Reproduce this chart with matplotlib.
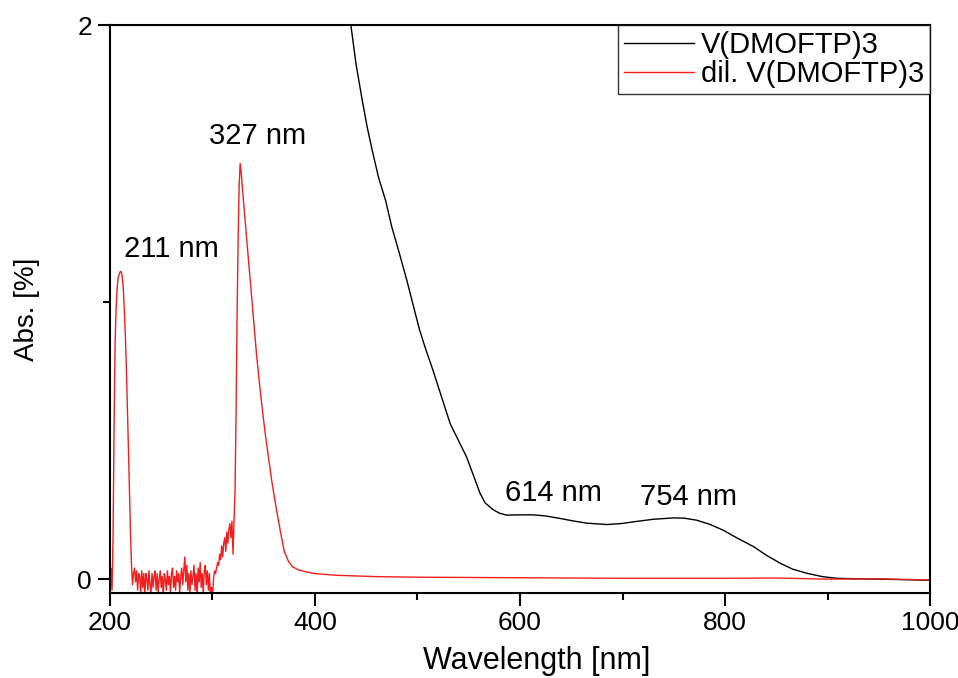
import matplotlib.pyplot as plt
from matplotlib.ticker import MultipleLocator

plt.rcParams['font.family'] = ['Liberation Sans', 'DejaVu Sans']

# V(DMOFTP)3 (concentrated)
black_wl = [420, 435, 440, 446, 451, 456, 462, 469, 475, 482, 489.5, 495, 502, 508,
            515, 525, 532, 540, 548, 555, 561, 566, 574, 580, 587, 600, 613, 625,
            639, 652, 665, 685, 700, 711, 730, 750, 760, 772, 785, 798, 812, 828,
            840, 854, 866, 880, 895, 909, 930, 951, 975, 1000]
black_abs = [2.35, 2.00, 1.86, 1.73, 1.63, 1.545, 1.45, 1.365, 1.27, 1.18, 1.08, 1.00,
             0.90, 0.83, 0.755, 0.64, 0.56, 0.50, 0.44, 0.37, 0.31, 0.275, 0.25,
             0.238, 0.231, 0.232, 0.232, 0.228, 0.219, 0.21, 0.202, 0.197, 0.201,
             0.207, 0.216, 0.221, 0.22, 0.213, 0.198, 0.177, 0.148, 0.117, 0.087,
             0.057, 0.036, 0.021, 0.009, 0.003, 0.001, 0.0, -0.002, -0.004]

# dil. V(DMOFTP)3
red_wl = list(range(200, 330)) + [331, 334, 337, 340, 343, 346, 349, 352, 355, 358,
                                  362, 366, 370, 374, 378, 384, 392, 400, 420, 460,
                                  500, 600, 700, 800, 850, 900, 950, 1000]
red_abs = [
    # 200-221: peak at 211 nm
    -0.06, 0.04, -0.04, 0.15, 0.55, 0.85, 0.98, 1.05, 1.09, 1.10, 1.11, 1.11,
    1.09, 1.05, 0.97, 0.88, 0.76, 0.62, 0.47, 0.32, 0.17, 0.05,
    # 222-300: noisy baseline
    -0.02, 0.02, 0.04, -0.01, 0.03, -0.04, 0.02, 0.01, -0.05, 0.03,
    -0.03, 0.02, -0.06, 0.02, 0.00, -0.04, 0.03, -0.02, -0.05, 0.02,
    -0.03, 0.01, 0.03, -0.04, 0.02, -0.05, 0.00, 0.03, -0.03, 0.01,
    -0.06, 0.02, 0.00, -0.04, 0.03, -0.02, 0.01, -0.05, 0.02, 0.04,
    -0.03, 0.01, -0.04, 0.03, -0.01, 0.02, -0.05, 0.01, 0.04, -0.02,
    0.03, 0.08, -0.01, 0.05, -0.04, 0.02, -0.05, 0.03, -0.02, 0.01,
    0.05, -0.04, 0.02, -0.06, 0.04, -0.01, 0.06, -0.03, 0.02, -0.05,
    0.03, 0.05, -0.02, 0.03, -0.04, 0.02, -0.06, -0.03, -0.06,
    # 301-329: rise to peak at 327 nm
    0.00, 0.03, 0.02, 0.04, 0.06, 0.05, 0.09, 0.07, 0.12, 0.08,
    0.13, 0.15, 0.10, 0.17, 0.13, 0.18, 0.20, 0.15, 0.21, 0.09,
    0.20, 0.32, 0.60, 0.95, 1.22, 1.42, 1.50, 1.47, 1.42,
    # tail
    1.33, 1.20, 1.07, 0.94, 0.81, 0.70, 0.60, 0.51, 0.43, 0.35,
    0.26, 0.177, 0.10, 0.065, 0.045, 0.033, 0.026, 0.02, 0.014, 0.009,
    0.007, 0.005, 0.003, 0.003, 0.004, 0.0, 0.001, -0.003]

peak_labels = ['211 nm', '327 nm', '614 nm', '754 nm']
label_x = [213.7, 296.6, 585.4, 717]
label_y = [1.19, 1.60, 0.31, 0.296]

fig = plt.figure(figsize=(9.58, 6.78), dpi=100)
ax = fig.add_axes([0.1148, 0.1254, 0.856, 0.8377])

ax.plot(black_wl, black_abs, color='black', lw=1.0, label='V(DMOFTP)3')
ax.plot(red_wl, red_abs, color='#f01e1e', lw=1.0, label='dil. V(DMOFTP)3')

for txt, x, y in zip(peak_labels, label_x, label_y):
    ax.text(x, y, txt, fontsize=21, ha='left', va='center')

ax.set_xlim(200, 1000)
ax.set_ylim(-0.05, 2)
ax.xaxis.set_major_locator(MultipleLocator(200))
ax.xaxis.set_minor_locator(MultipleLocator(100))
ax.set_yticks([0, 2])
ax.yaxis.set_minor_locator(MultipleLocator(1))
ax.tick_params(which='major', direction='out', length=9, width=1.5, labelsize=19, pad=4)
ax.tick_params(which='minor', direction='out', length=5, width=1.5)
for s in ax.spines.values():
    s.set_linewidth(1.5)

ax.set_xlabel('Wavelength [nm]', fontsize=22)
ax.xaxis.set_label_coords(0.52, -0.094)
ax.set_ylabel('Abs. [%]', fontsize=20, labelpad=27)

leg = ax.legend(loc='upper right', borderaxespad=0, fontsize=21, frameon=True,
                fancybox=False, handlelength=2.4, handletextpad=0.25,
                labelspacing=0.05, borderpad=0.2)
leg.get_frame().set_edgecolor('black')
leg.get_frame().set_linewidth(1.0)

fig.savefig('out.png', dpi=100)
